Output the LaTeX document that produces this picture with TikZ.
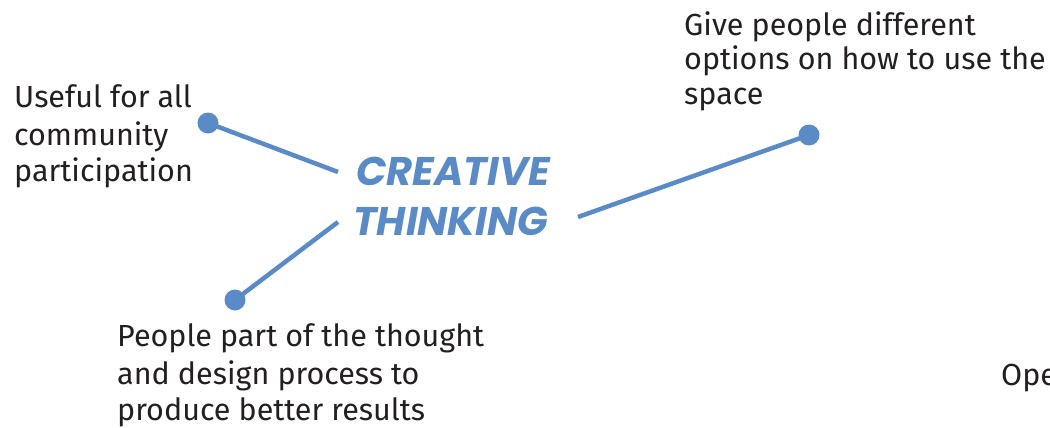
\documentclass[tikz,border=0pt]{standalone}
\usepackage{fontspec}
\setmainfont{Fira Sans}
\newfontfamily\titlefont{Poppins}
\definecolor{lineblue}{HTML}{5A8BC6}
\definecolor{txtgray}{HTML}{231F20}
\begin{document}
\begin{tikzpicture}[x=1pt,y=-1pt,
  lbl/.style={anchor=base west,inner sep=0pt,align=left,text=txtgray,
    font=\fontsize{30.5}{36}\selectfont},
  ttl/.style={anchor=base west,inner sep=0pt,text=lineblue,
    font=\titlefont\bfseries\itshape\fontsize{40}{48}\selectfont},
  dot/.style={circle,fill=lineblue,inner sep=0pt,minimum size=21pt},
  conn/.style={draw=lineblue,line width=4.5pt}]
\useasboundingbox (0,0) rectangle (1050,428);
\node[ttl] (t1) at (356,185) {CREATIVE};
\node[ttl] (t2) at (353,235) {THINKING};
\node[dot] (d1) at (208,123) {};
\node[dot] (d2) at (809,135) {};
\node[dot] (d3) at (235,300) {};
\coordinate (e1) at (338,172);
\coordinate (e2) at (578,217);
\coordinate (e3) at (338,222);
\draw[conn] (d1.center) -- (e1);
\draw[conn] (e2) -- (d2.center);
\draw[conn] (d3.center) -- (e3);
\node[lbl] (a1) at (14,107) {Useful for all};
\node[lbl] (a2) at (14,145) {community};
\node[lbl] (a3) at (14,181) {participation};
\node[lbl] (b1) at (684,36) {Give people different};
\node[lbl] (b2) at (684,70) {options on how to use the};
\node[lbl] (b3) at (684,104) {space};
\node[lbl] (c1) at (117,346) {People part of the thought};
\node[lbl] (c2) at (117,384) {and design process to};
\node[lbl] (c3) at (117,420) {produce better results};
\node[lbl] (o) at (1001,385) {Ope};
\end{tikzpicture}
\end{document}
